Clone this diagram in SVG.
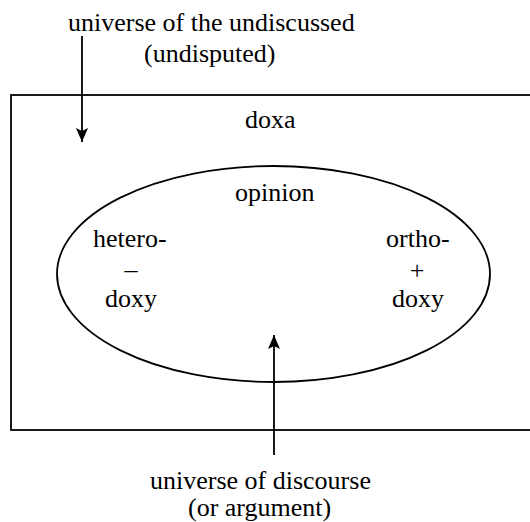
<svg xmlns="http://www.w3.org/2000/svg" width="530" height="522" viewBox="0 0 530 522">
<style>
text{font-family:'Liberation Serif','Times New Roman','DejaVu Serif',serif;font-size:26px;fill:#000}
.ln{fill:none;stroke:#000;stroke-width:1.8}
.c{text-anchor:middle}
</style>
<defs>
<marker id="ah" viewBox="0 0 14 12" refX="14" refY="6" markerWidth="14" markerHeight="12" markerUnits="userSpaceOnUse" orient="auto">
<path d="M0,0 L14,6 L0,12 L3,6 Z" fill="#000"/>
</marker>
</defs>
<rect x="0" y="0" width="530" height="522" fill="#fff"/>
<g font-family="Liberation Serif, serif">
<g id="doxa">
<rect class="ln" x="11" y="95" width="530" height="335"/>
<text x="245" y="128">doxa</text>
</g>
<g id="opinion">
<ellipse class="ln" cx="273.5" cy="274" rx="216.5" ry="108"/>
<text x="235" y="201">opinion</text>
</g>
<g id="heterodoxy">
<text x="93" y="247">hetero-</text>
<text class="c" x="131" y="278">–</text>
<text x="105" y="307">doxy</text>
</g>
<g id="orthodoxy">
<text x="386" y="247">ortho-</text>
<text class="c" x="417" y="279">+</text>
<text x="392" y="307">doxy</text>
</g>
<g id="undiscussed">
<text x="68" y="31">universe of the undiscussed</text>
<text x="144" y="62">(undisputed)</text>
</g>
<g id="discourse">
<text x="150" y="489">universe of discourse</text>
<text x="188" y="516">(or argument)</text>
</g>
</g>
<g id="connectors">
<line class="ln" x1="82" y1="36" x2="82" y2="142" marker-end="url(#ah)"/>
<line class="ln" x1="274" y1="455" x2="274" y2="335" marker-end="url(#ah)"/>
</g>
</svg>
